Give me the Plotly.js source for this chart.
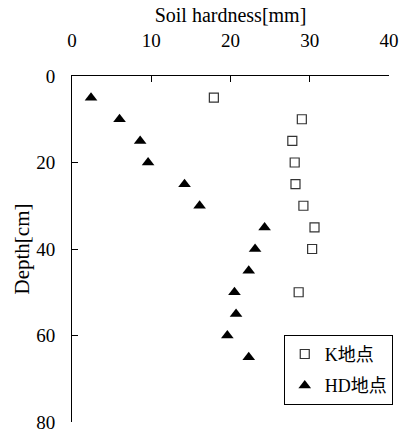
<!DOCTYPE html>
<html>
<head>
<meta charset="utf-8">
<script src="https://cdn.plot.ly/plotly-3.0.1.min.js"></script>
<style>html,body{margin:0;padding:0;background:#fff;}</style>
</head>
<body>
<div id="chart" style="width:403px;height:432px;"></div>
<script>
// Data
const depthK = [5, 10, 15, 20, 25, 30, 35, 40, 50];
const hardnessK = [17.9, 29.0, 27.8, 28.1, 28.2, 29.2, 30.6, 30.3, 28.6];
const depthHD = [5, 10, 15, 20, 25, 30, 35, 40, 45, 50, 55, 60, 65];
const hardnessHD = [2.4, 6.0, 8.6, 9.6, 14.2, 16.1, 24.3, 23.1, 22.3, 20.5, 20.7, 19.6, 22.3];
const seriesNames = ['K地点', 'HD地点'];
const xTicks = [0, 10, 20, 30, 40];
const yTicks = [0, 20, 40, 60, 80];

const serif = "'Liberation Serif', 'Noto Sans CJK JP', serif";
const tickFamily = "'Times New Roman', Times, serif";

const traces = [
  {
    x: hardnessK, y: depthK, name: seriesNames[0], type: 'scatter', mode: 'markers',
    legendgroup: 'a',
    marker: {symbol: 'square-open', size: 9, color: '#333', line: {width: 1.2, color: '#333'}}
  },
  {
    x: hardnessHD, y: depthHD, name: seriesNames[1], type: 'scatter', mode: 'markers',
    legendgroup: 'b',
    marker: {symbol: 'triangle-up', size: 11, color: '#000'}
  }
];

const layout = {
  width: 403, height: 432,
  margin: {l: 72, r: 12, t: 76, b: 10},
  paper_bgcolor: '#fff', plot_bgcolor: '#fff',
  font: {family: serif, size: 19, color: '#000'},
  showlegend: true,
  legend: {
    x: 0.668, y: 0.252, xanchor: 'left', yanchor: 'top',
    bordercolor: '#000', borderwidth: 1, bgcolor: '#fff',
    font: {family: serif, size: 18, color: '#000'},
    traceorder: 'grouped', tracegroupgap: 5,
    itemwidth: 30
  },
  xaxis: {
    side: 'top', range: [0, 40], tickvals: xTicks, ticktext: xTicks.map(String),
    showgrid: false, zeroline: false, showline: true, linecolor: '#000', linewidth: 1,
    ticks: 'inside', ticklen: 6, tickcolor: '#000', tickwidth: 1,
    ticklabelstandoff: 20, ticklabeloverflow: 'allow',
    tickfont: {family: tickFamily, size: 19, color: '#000'},
    title: {text: 'Soil hardness[mm]', font: {family: serif, size: 20}, standoff: 2},
    fixedrange: true
  },
  yaxis: {
    range: [80, 0], tickvals: yTicks, ticktext: yTicks.map(String),
    showgrid: false, zeroline: false, showline: true, linecolor: '#000', linewidth: 1,
    ticks: 'inside', ticklen: 6, tickcolor: '#000', tickwidth: 1,
    ticklabelstandoff: 12, ticklabeloverflow: 'allow',
    tickfont: {family: tickFamily, size: 19, color: '#000'},
    title: {text: 'Depth[cm]', font: {family: serif, size: 21}, standoff: 0},
    fixedrange: true
  }
};

Plotly.newPlot('chart', traces, layout, {displayModeBar: false, staticPlot: true});
</script>
</body>
</html>
